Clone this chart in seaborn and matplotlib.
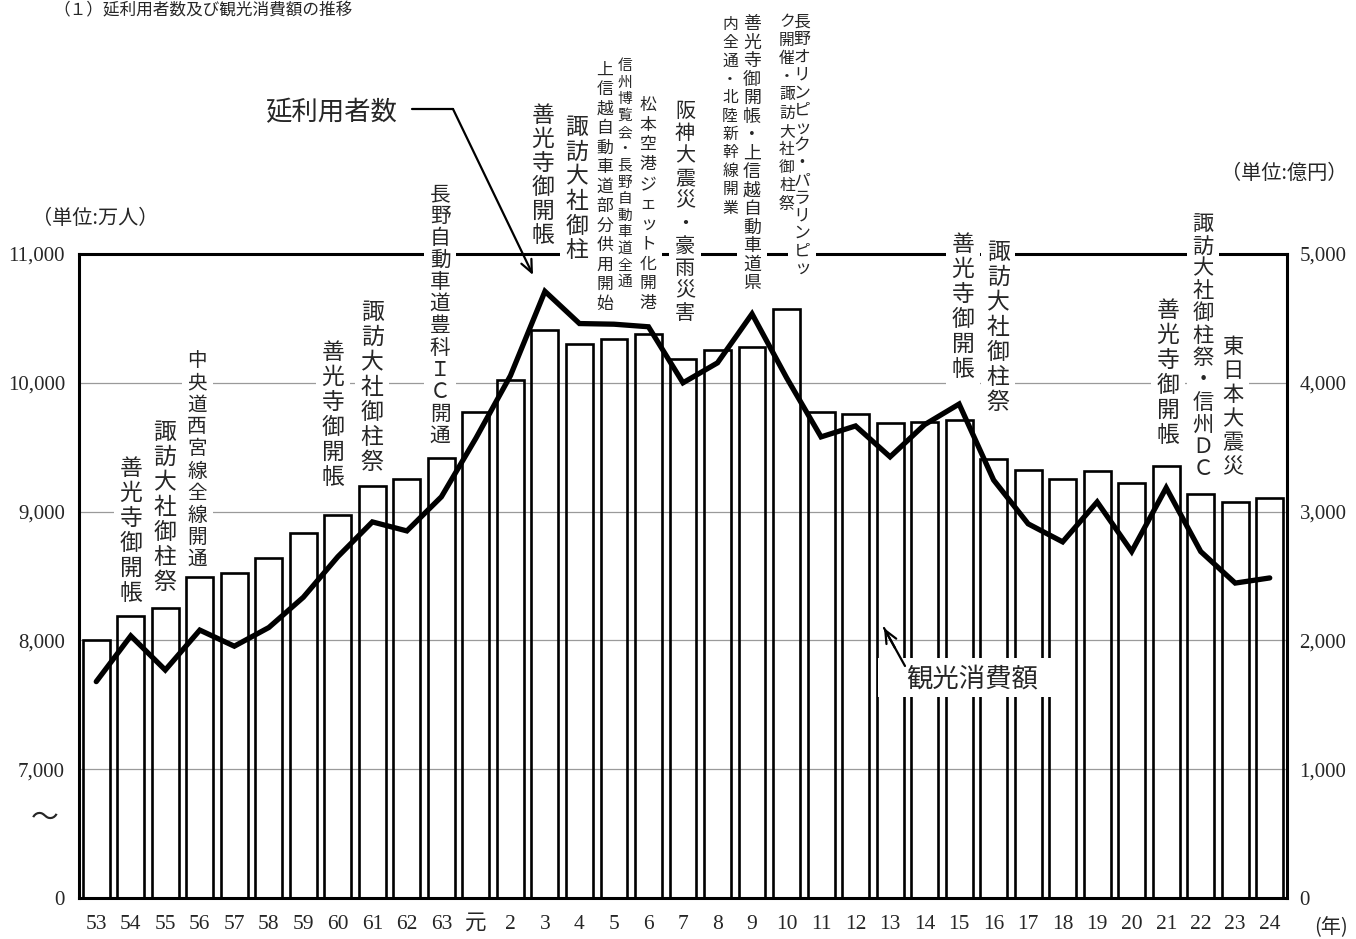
import numpy as np
import pandas as pd
import seaborn as sns
import matplotlib.pyplot as plt
from matplotlib.patches import Rectangle

# data
years = ['53', '54', '55', '56', '57', '58', '59', '60', '61', '62', '63', '元',
         '2', '3', '4', '5', '6', '7', '8', '9', '10', '11', '12', '13', '14',
         '15', '16', '17', '18', '19', '20', '21', '22', '23', '24']
# 観光消費額 (億円) - bars, right axis
spending = [2000, 2190, 2250, 2490, 2520, 2640, 2835, 2975, 3200, 3255, 3415, 3775,
            4025, 4410, 4305, 4340, 4380, 4185, 4255, 4280, 4575, 3775, 3760, 3690,
            3695, 3715, 3410, 3325, 3250, 3315, 3225, 3355, 3140, 3075, 3105]
# 延利用者数 (万人) - line, left axis
visitors = [7680, 8035, 7770, 8080, 7955, 8100, 8335, 8650, 8920, 8850, 9115, 9570,
            10055, 10710, 10460, 10455, 10435, 10000, 10155, 10535, 10040, 9580, 9665, 9425,
            9675, 9835, 9245, 8905, 8765, 9075, 8690, 9185, 8690, 8445, 8485]

left_ticks = ['0', '7,000', '8,000', '9,000', '10,000', '11,000']
right_ticks = ['0', '1,000', '2,000', '3,000', '4,000', '5,000']

events = ['善光寺御開帳', '諏訪大社御柱祭', '中央道西宮線全線開通', '善光寺御開帳',
          '諏訪大社御柱祭', '長野自動車道豊科ＩＣ開通', '善光寺御開帳', '諏訪大社御柱',
          '上信越自動車道部分供用開始', '信州博覧会・長野自動車道全通',
          '松本空港ジェット化開港', '阪神大震災・豪雨災害',
          '内全通・北陸新幹線開業', '善光寺御開帳・上信越自動車道県',
          'ク開催・諏訪大社御柱祭', '長野オリンピック・パラリンピッ',
          '善光寺御開帳', '諏訪大社御柱祭', '善光寺御開帳', '諏訪大社御柱祭・信州ＤＣ',
          '東日本大震災']
# layout of the event labels: x px, top px, glyph px, pitch px
event_pos = [(131, 456, 21, 25), (165, 420, 21, 25), (197, 350, 18, 22), (333, 340, 21, 25),
             (372, 300, 21, 25), (440, 183, 19, 22), (543, 103, 21, 24), (577, 115, 21, 24.7),
             (605, 60, 15.5, 19.5), (625, 58, 13.5, 16.6), (648, 95, 15.5, 19.8), (685, 100, 18.5, 22.5),
             (730, 15, 14.5, 18.4), (752, 15, 16.5, 18.5), (787, 13, 14.5, 18.2), (802, 13, 15.5, 17.6),
             (963, 232, 21, 25), (998, 240, 21, 25), (1168, 298, 21, 25), (1203, 213, 19.5, 22.3),
             (1233, 335, 19.5, 24)]

W, H = 1356, 939
CJK = 'Noto Sans CJK JP'

sns.set_style('white')
plt.rcParams['font.family'] = ['Liberation Serif', 'Noto Sans CJK JP']

fig = plt.figure(figsize=(W / 100, H / 100), dpi=100)
ax = fig.add_axes([79 / W, 1 - 898 / H, (1287 - 79) / W, (898 - 254) / H])

df = pd.DataFrame({'year': years, 'spending': spending,
                   'visitors': np.array(visitors) - 6000, 'pos': np.arange(len(years))})

sns.barplot(data=df, x='year', y='spending', order=years, fill=False, color='black',
            linewidth=1.9, width=0.78, ax=ax)
sns.lineplot(data=df, x='pos', y='visitors', color='black', linewidth=3.8, ax=ax,
             solid_joinstyle='miter')

ax.set_xlim(-0.5, len(years) - 0.5)
ax.set_ylim(0, 5000)
ax.set_yticks(np.arange(0, 5001, 1000))
ax.set_yticklabels(left_ticks)
ax.set_xlabel('')
ax.set_ylabel('')
ax.yaxis.grid(True, color='#9a9a9a', linewidth=0.9)
ax.set_axisbelow(True)
ax.tick_params(axis='y', length=0, labelsize=15, pad=10)
ax.tick_params(axis='x', length=0, labelsize=15.5, pad=12)
for s in ax.spines.values():
    s.set_visible(True)
    s.set_color('black')
    s.set_linewidth(2.2)

ax2 = ax.twinx()
ax2.set_ylim(0, 5000)
ax2.set_yticks(np.arange(0, 5001, 1000))
ax2.set_yticklabels(right_ticks)
ax2.tick_params(axis='y', length=0, labelsize=15, pad=9)
for s in ax2.spines.values():
    s.set_visible(False)
ax2.grid(False)


def fx(px):
    return px / W


def fy(py):
    return 1 - py / H


# vertical event labels with white backing
for text, (px, top, gpx, pitch) in zip(events, event_pos):
    n = len(text)
    bw = gpx + 13
    fig.patches.append(Rectangle((fx(px - bw / 2), fy(top + n * pitch + 3)), bw / W,
                                 (n * pitch + 6) / H, transform=fig.transFigure,
                                 facecolor='white', edgecolor='none', zorder=1))
    for i, ch in enumerate(text):
        fig.text(fx(px), fy(top + pitch * (i + 0.5)), ch, ha='center', va='center',
                 fontsize=gpx / 0.92 * 0.72, family=CJK, zorder=3)

# series labels
fig.text(fx(331), fy(113), '延利用者数', ha='center', va='center', fontsize=19, family=CJK)
fig.add_artist(plt.Line2D([fx(412), fx(453)], [fy(109), fy(109)], color='black',
                          linewidth=1.6, transform=fig.transFigure))
ax.annotate('', xy=(533, H - 275), xycoords='figure pixels',
            xytext=(453, H - 109), textcoords='figure pixels',
            arrowprops=dict(arrowstyle='->,head_length=0.9,head_width=0.4',
                            color='black', lw=1.6, shrinkA=0, shrinkB=0))

fig.patches.append(Rectangle((fx(878), fy(697)), (1060 - 878) / W, 39 / H,
                             transform=fig.transFigure, facecolor='white',
                             edgecolor='none', zorder=1))
fig.text(fx(906), fy(679), '観光消費額', ha='left', va='center', fontsize=19, family=CJK,
         zorder=3)
fig.add_artist(plt.Line2D([fx(905), fx(884)], [fy(666), fy(628)], color='black',
                          linewidth=1.6, transform=fig.transFigure, zorder=3))
ax.annotate('', xy=(884, H - 628), xycoords='figure pixels',
            xytext=(895, H - 648), textcoords='figure pixels',
            arrowprops=dict(arrowstyle='->,head_length=0.9,head_width=0.4',
                            color='black', lw=1.6, shrinkA=0, shrinkB=0))

# units and other text
fig.text(fx(53), fy(2), '（１）延利用者数及び観光消費額の推移', ha='left', va='top',
         fontsize=12, family=CJK)
fig.text(fx(95), fy(218), '（単位:万人）', ha='center', va='center', fontsize=14.5, family=CJK)
fig.text(fx(1284), fy(173), '（単位:億円）', ha='center', va='center', fontsize=14.5,
         family=CJK)
fig.text(fx(1331), fy(928), '(年)', ha='center', va='center', fontsize=14.5, family=CJK)
fig.text(fx(45), fy(818), '～', ha='center', va='center', fontsize=20, family=CJK)

fig.savefig('out.png', dpi=100, facecolor='white')
